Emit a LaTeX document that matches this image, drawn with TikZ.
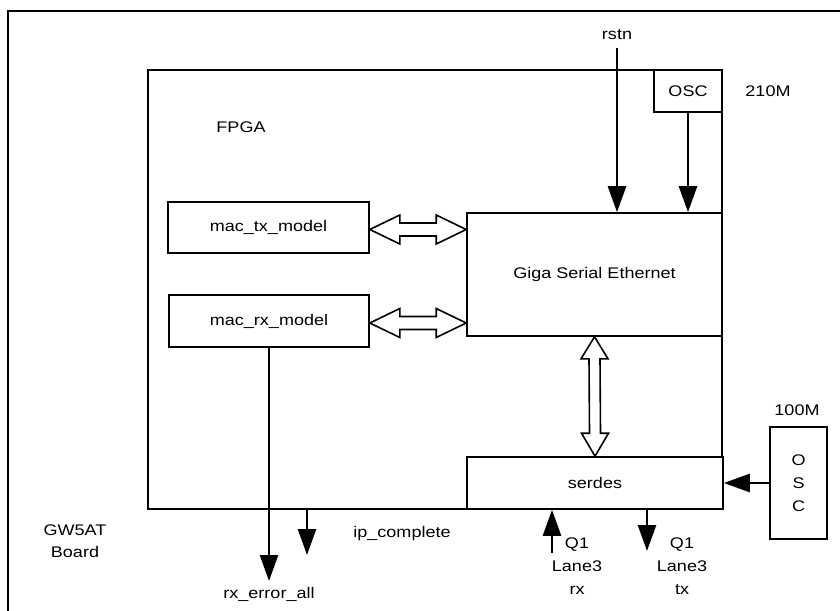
\documentclass[tikz,border=0pt]{standalone}
\usepackage{fontspec}
\setmainfont{Liberation Sans}[FakeStretch=1.17]
\usetikzlibrary{arrows.meta,calc}
\begin{document}
\begin{tikzpicture}[x=1pt,y=-1pt,
  box/.style={draw,line width=1.6pt,fill=white,inner sep=0pt,rectangle},
  lbl/.style={inner sep=0pt,font=\fontsize{15.4}{22}\selectfont,align=center},
  sig/.style={line width=2.6pt,-{Triangle[length=26pt,width=18pt]}},
  hollow/.style={draw,line width=1.6pt,fill=white,line join=miter}]
\useasboundingbox (0,0) rectangle (840,610);
% board
\coordinate (bTL) at (8,11);
\coordinate (bBL) at (8,612);
\coordinate (bTR) at (842,11);
\draw[line width=2.8pt] (bBL) -- (bTL) -- (bTR);
% boxes
\node[box,minimum width=574pt,minimum height=439pt] (fpga) at (435,289.5) {};
\node[box,minimum width=68pt,minimum height=42pt] (osc1) at (688,91) {};
\node[lbl] at (osc1) {OSC};
\node[box,minimum width=255pt,minimum height=123pt] (giga) at (594.5,274.5) {};
\node[lbl] at (giga) {Giga Serial Ethernet};
\node[box,minimum width=201pt,minimum height=51pt] (tx) at (268.5,227.5) {};
\node[lbl] at (tx) {mac\_tx\_model};
\node[box,minimum width=200pt,minimum height=52pt] (rx) at (269,321) {};
\node[lbl] at (rx) {mac\_rx\_model};
\node[box,minimum width=256pt,minimum height=52pt] (serdes) at (595,483) {};
\node[lbl] at (serdes) {serdes};
\node[box,minimum width=57pt,minimum height=112pt] (osc2) at (798.5,483) {};
\node[lbl] at (osc2) {O\\[1pt]S\\[1pt]C};
% texts
\node[lbl] (fpgal) at (241,127) {FPGA};
\node[lbl] (rstnl) at (617,35) {rstn};
\node[lbl] (f210) at (768,91) {210M};
\node[lbl] (f100) at (797,410) {100M};
\node[lbl] (board) at (75,541) {GW5AT\\Board};
\node[lbl] (ipl) at (402,534) {ip\_complete};
\node[lbl] (errl) at (269,594) {rx\_error\_all};
\node[lbl,font=\fontsize{15.4}{23}\selectfont] (rxl) at (577,566) {Q1\\Lane3\\rx};
\node[lbl,font=\fontsize{15.4}{23}\selectfont] (txl) at (682,566) {Q1\\Lane3\\tx};
% connectors
\coordinate (rstnS) at (617,48);
\draw[sig] (rstnS) -- (rstnS |- giga.north);
\draw[sig] (osc1.south) -- (osc1.south |- giga.north);
\coordinate (errE) at (269,581);
\draw[sig] (rx.south) -- (errE);
\coordinate (ipS) at (307,509);
\coordinate (ipE) at (307,555);
\draw[sig] (ipS) -- (ipE);
\coordinate (rxS) at (552,553);
\draw[sig] (rxS) -- (rxS |- serdes.south);
\coordinate (txS) at (647,509);
\coordinate (txE) at (647,551);
\draw[sig] (txS) -- (txE);
\draw[sig] (osc2.west) -- (serdes.east);
% hollow double arrows
\foreach \n in {tx,rx}{
  \coordinate (A) at ($(\n.east)+(0,2)$);
  \coordinate (B) at (A -| giga.west);
  \path[hollow] (A) -- ($(A)+(30,-14.5)$) -- ($(A)+(30,-6.5)$) -- ($(B)+(-30,-6.5)$)
    -- ($(B)+(-30,-14.5)$) -- (B) -- ($(B)+(-30,14.5)$) -- ($(B)+(-30,6.5)$)
    -- ($(A)+(30,6.5)$) -- ($(A)+(30,14.5)$) -- cycle;
}
\coordinate (C) at (giga.south);
\coordinate (D) at (serdes.north);
\path[hollow] (C) -- ($(C)+(13.5,22)$) -- ($(C)+(5.5,22)$) -- ($(D)+(5.5,-23)$)
  -- ($(D)+(13.5,-23)$) -- (D) -- ($(D)+(-13.5,-23)$) -- ($(D)+(-5.5,-23)$)
  -- ($(C)+(-5.5,22)$) -- ($(C)+(-13.5,22)$) -- cycle;
\end{tikzpicture}
\end{document}
